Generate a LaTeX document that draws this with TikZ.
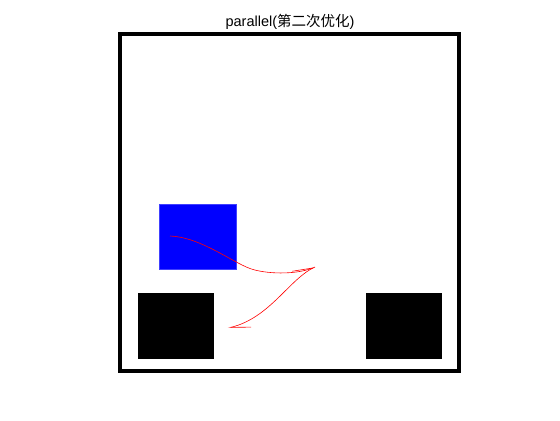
\documentclass[tikz,border=0pt]{standalone}
\usepackage{fontspec}
\setmainfont{Liberation Sans}
\newfontfamily\cjk{Noto Sans CJK SC}
\usetikzlibrary{arrows.meta,positioning}

\begin{document}
\begin{tikzpicture}[x=1bp, y=-1bp,
    block/.style={rectangle, inner sep=0pt, minimum width=76bp, minimum height=65bp},
    path/.style={draw=red, line width=0.6bp, -{Straight Barb[harpoon, length=20bp, width=9bp, line width=0.6bp]}}
]
    \useasboundingbox (0,0) rectangle (560,420);

    % Title
    \node (title) [anchor=base, inner sep=0pt, font=\fontsize{14.5bp}{17bp}\selectfont] at (290,26.5) {parallel({\cjk 第二次优化})};

    % Frame
    \draw[line width=4bp] (120,33.5) rectangle (459,371);

    % Obstacles and the start block
    \node (start) [block, fill=blue, draw=blue!75!white, line width=0.5bp, minimum width=77bp] at (197.5,236.5) {};
    \node (blk1) [block, fill=black, minimum height=66bp] at (176,326) {};
    \node (blk2) [block, fill=black, minimum height=66bp, right=152bp of blk1] {};

    % Trajectory
    \coordinate (p0) at (170,236);
    \coordinate (p1) at (315,267);
    \coordinate (p2) at (228,328);
    \draw[path] (p0) .. controls (200,237) and (232,262) .. (250,268.5)
        .. controls (265,274) and (295,275) .. (p1);
    \draw[path] (p1) .. controls (290,278) and (270,318) .. (p2);

\end{tikzpicture}
\end{document}
